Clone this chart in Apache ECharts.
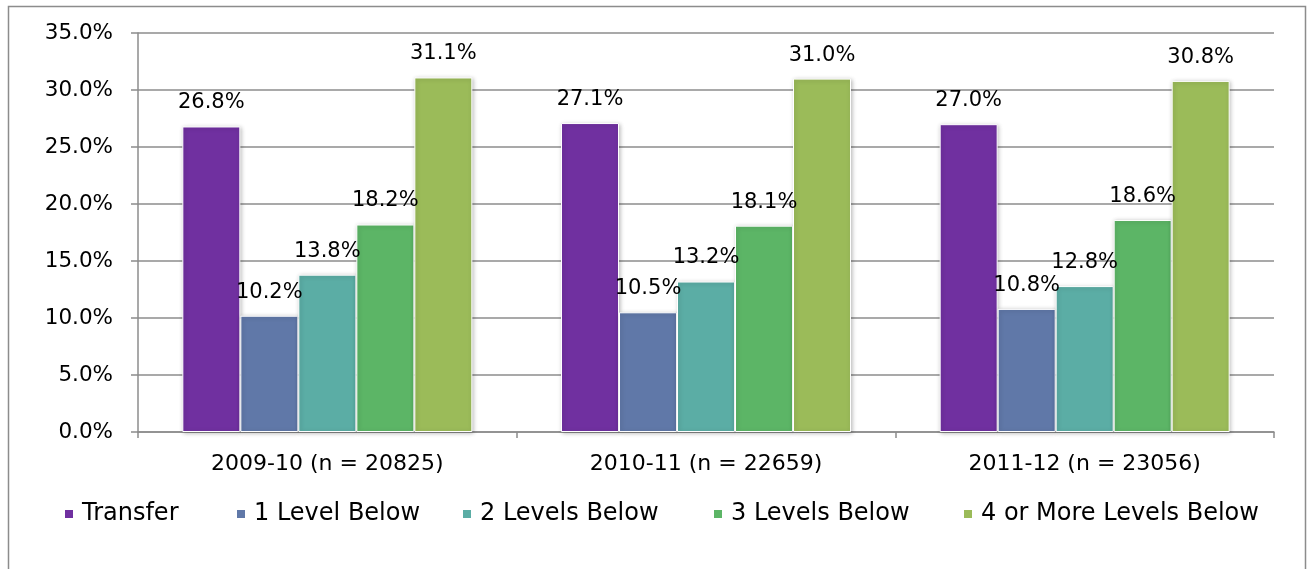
<!DOCTYPE html>
<html>
<head>
<meta charset="utf-8">
<script src="https://cdn.jsdelivr.net/npm/echarts@6/dist/echarts.min.js"></script>
<style>
html,body{margin:0;padding:0;background:#fff;}
#chart{width:1309px;height:569px;}
</style>
</head>
<body>
<div id="chart"></div>
<script>
const categories = ['2009-10 (n = 20825)', '2010-11 (n = 22659)', '2011-12 (n = 23056)'];
const seriesNames = ['Transfer', '1 Level Below', '2 Levels Below', '3 Levels Below', '4 or More Levels Below'];
const transfer = [26.8, 27.1, 27.0];
const level1 = [10.2, 10.5, 10.8];
const level2 = [13.8, 13.2, 12.8];
const level3 = [18.2, 18.1, 18.6];
const level4plus = [31.1, 31.0, 30.8];
const yTicks = [0, 5, 10, 15, 20, 25, 30, 35];
const colors = ['#7030A0', '#6078A8', '#5BADA5', '#5CB566', '#9BBB59'];

const allValues = [transfer, level1, level2, level3, level4plus];
const FONT = '"DejaVu Sans", sans-serif';
const gridColor = '#8c8c8c';
const legendLeft = [63, 235, 461, 712, 962];

const chart = echarts.init(document.getElementById('chart'), null, {renderer: 'canvas'});
chart.setOption({
  animation: false,
  backgroundColor: '#fff',
  color: colors,
  textStyle: {fontFamily: FONT},
  graphic: [{
    type: 'rect',
    shape: {x: 8.5, y: 6.5, width: 1297, height: 620},
    style: {fill: 'none', stroke: gridColor, lineWidth: 1.5},
    silent: true, z: -1
  }],
  grid: {left: 138, right: 35, top: 33, bottom: 137, containLabel: false},
  legend: seriesNames.map((name, i) => ({
    left: legendLeft[i], top: 502,
    itemWidth: 10, itemHeight: 10, itemGap: 0,
    icon: 'rect',
    padding: 0,
    textStyle: {fontFamily: FONT, fontSize: 24, color: '#000', padding: [0, 0, 0, 3]},
    data: [name]
  })),
  xAxis: {
    type: 'category',
    data: categories,
    axisLine: {lineStyle: {color: gridColor, width: 1.5}},
    axisTick: {show: true, length: 6, lineStyle: {color: gridColor, width: 1.5}},
    axisLabel: {fontFamily: FONT, fontSize: 22, color: '#000', margin: 21}
  },
  yAxis: {
    type: 'value',
    min: yTicks[0], max: yTicks[yTicks.length - 1], interval: 5,
    axisLine: {show: true, lineStyle: {color: gridColor, width: 1.5}},
    axisTick: {show: true, length: 7, lineStyle: {color: gridColor, width: 1.5}},
    splitLine: {show: true, lineStyle: {color: gridColor, width: 1.5}},
    axisLabel: {fontFamily: FONT, fontSize: 21.5, color: '#000', margin: 25,
      formatter: v => v.toFixed(1) + '%'}
  },
  series: seriesNames.map((name, i) => ({
    name: name,
    type: 'bar',
    data: allValues[i],
    barWidth: 58,
    barGap: '0%',
    itemStyle: {
      color: colors[i],
      borderColor: '#fff', borderWidth: 1,
      shadowBlur: 4, shadowColor: 'rgba(0,0,0,0.25)', shadowOffsetX: 1, shadowOffsetY: 1
    },
    label: {
      show: true, position: 'top', distance: 13,
      fontFamily: FONT, fontSize: 21, color: '#000',
      formatter: p => p.value.toFixed(1) + '%'
    }
  }))
});
</script>
</body>
</html>
